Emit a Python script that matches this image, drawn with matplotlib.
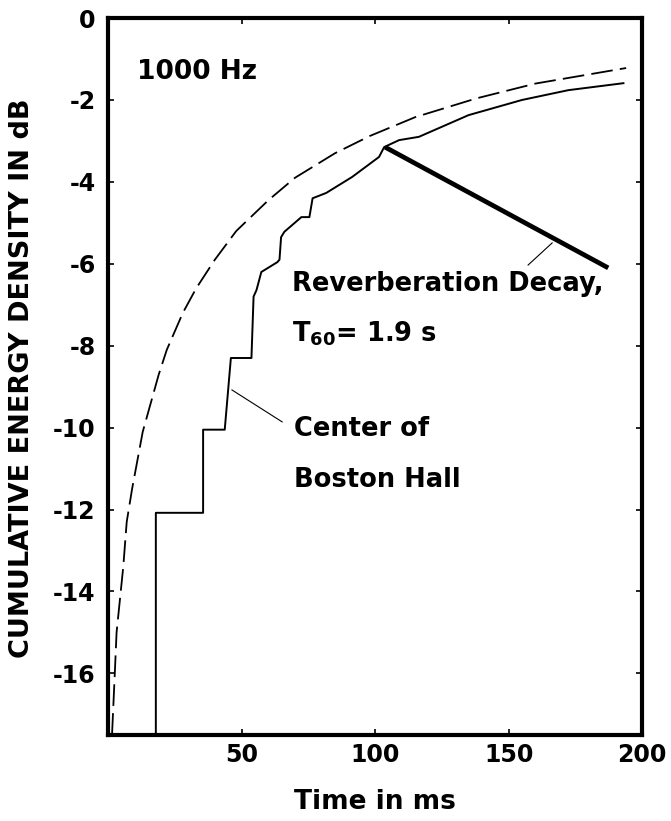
import matplotlib
matplotlib.use("Agg")
import matplotlib.pyplot as plt

plt.rcParams['font.family'] = ['DejaVu Sans']
plt.rcParams['font.weight'] = 'bold'
plt.rcParams['mathtext.fontset'] = 'dejavusans'
plt.rcParams['axes.unicode_minus'] = False

# smooth (dashed) curve
smooth_t = [1.5, 2.6, 3.2, 5.7, 7.0, 9.0, 11.0, 13.0, 16.0, 19.0, 22.0, 28.0, 33.0,
            40.0, 48.0, 60.0, 70.0, 85.0, 98.0, 115.0, 138.0, 160.0, 194.0]
smooth_db = [-17.5, -15.9, -15.0, -13.4, -12.3, -11.5, -10.8, -10.1, -9.4, -8.7, -8.1,
             -7.2, -6.6, -5.9, -5.2, -4.45, -3.9, -3.3, -2.88, -2.42, -1.96, -1.6, -1.22]

# measured curve, centre of Boston hall (stepped)
hall_t = [17.9, 17.9, 35.6, 35.6, 43.7, 46.0, 53.7, 54.5, 55.6, 57.4, 63.4, 64.2, 64.8,
          66.0, 72.4, 75.4, 76.6, 81.7, 91.4, 101.5, 103.4, 109.0, 116.4, 135.0, 155.0,
          172.4, 193.0]
hall_db = [-17.5, -12.08, -12.08, -10.05, -10.05, -8.3, -8.3, -6.8, -6.64, -6.2, -5.96,
           -5.9, -5.35, -5.22, -4.86, -4.86, -4.4, -4.27, -3.88, -3.39, -3.15, -2.98, -2.9,
           -2.37, -2.0, -1.76, -1.59]

# reverberation decay line
decay_t = [103.7, 187.3]
decay_db = [-3.15, -6.10]

x_ticks = [50, 100, 150, 200]
y_ticks = [0, -2, -4, -6, -8, -10, -12, -14, -16]

fig = plt.figure(figsize=(6.71, 8.21), dpi=100)
ax = fig.add_axes([0.161, 0.105, 0.796, 0.873])

ax.plot(smooth_t, smooth_db, color='black', lw=1.3, dashes=(12, 4))
ax.plot(hall_t, hall_db, color='black', lw=1.4)
ax.plot(decay_t, decay_db, color='black', lw=3.4, solid_capstyle='butt')

# leader lines
ax.plot([157.3, 166.3], [-6.03, -5.49], color='black', lw=0.8)
ax.plot([46.4, 65.2], [-9.08, -9.86], color='black', lw=0.8)

ax.text(10.9, -1.32, '1000 Hz', fontsize=19, fontweight='bold', va='center')
ax.text(68.9, -6.49, 'Reverberation Decay,', fontsize=18.5, fontweight='bold', va='center')
ax.text(68.9, -7.71, r'$\mathbf{T_{60}}$= 1.9 s', fontsize=18.5, fontweight='bold', va='center')
ax.text(69.5, -10.03, 'Center of', fontsize=18.5, fontweight='bold', va='center')
ax.text(69.5, -11.28, 'Boston Hall', fontsize=18.5, fontweight='bold', va='center')

ax.set_xlim(0, 200)
ax.set_ylim(-17.5, 0)
ax.set_xticks(x_ticks)
ax.set_yticks(y_ticks)
ax.tick_params(direction='in', length=4, width=1.2, top=True, right=True,
               labelsize=17)
ax.tick_params(axis='y', pad=9)
ax.tick_params(axis='x', pad=6)
for s in ax.spines.values():
    s.set_linewidth(3)

ax.set_xlabel('Time in ms', fontsize=19, fontweight='bold')
ax.set_ylabel('CUMULATIVE ENERGY DENSITY IN dB', fontsize=19.5, fontweight='bold')
ax.xaxis.set_label_coords(0.5, -0.075)
ax.yaxis.set_label_coords(-0.137, 0.498)

fig.savefig('out.png', dpi=100, facecolor='white')
